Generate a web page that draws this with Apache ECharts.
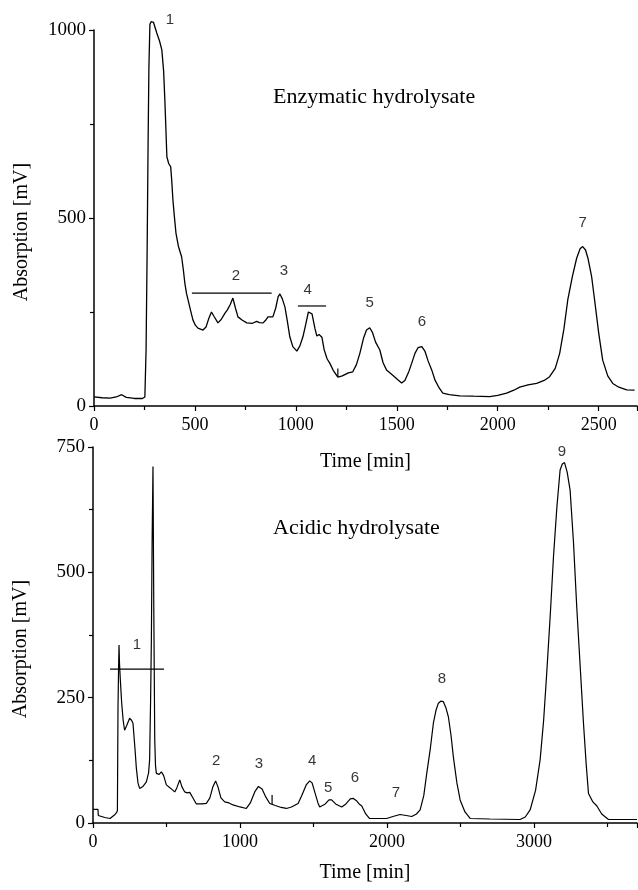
<!DOCTYPE html>
<html>
<head>
<meta charset="utf-8">
<script src="https://cdn.jsdelivr.net/npm/echarts@6/dist/echarts.min.js"></script>
<style>
html,body{margin:0;padding:0;background:#fff;}
#chart{width:638px;height:890px;}
</style>
</head>
<body>
<div id="chart"></div>
<script>
// ---------- Enzymatic hydrolysate (top) ----------
var enzTime = [0,40,80,110,137,160,200,240,252,258,263,268,272,277,283,295,300,311,325,336,345,351,356,361,370,380,385,391,398,406,418,434,442,450,458,466,478,490,502,515,540,555,570,582,595,614,630,649,660,675,688,700,713,735,757,785,806,820,838,850,862,886,900,912,921,933,946,958,970,985,1005,1020,1035,1050,1062,1069,1080,1095,1104,1115,1129,1140,1155,1168,1185,1208,1230,1260,1282,1300,1317,1335,1350,1366,1380,1395,1416,1432,1449,1480,1505,1524,1540,1560,1574,1590,1605,1624,1640,1655,1673,1690,1710,1728,1760,1812,1880,1960,2000,2044,2080,2109,2150,2193,2230,2257,2285,2307,2328,2347,2370,2391,2408,2421,2435,2447,2465,2480,2500,2520,2545,2570,2600,2639,2678];
var enzSignal = [24,22,21,24,30,23,20,20,24,150,400,700,900,1015,1022,1020,1015,992,970,947,890,814,740,663,645,636,600,548,505,460,425,397,365,327,300,282,255,229,215,207,202,210,235,250,238,221,230,247,255,270,287,262,237,228,221,220,225,222,221,228,237,237,260,290,298,285,263,225,184,158,146,160,184,220,250,255,245,205,186,190,183,150,125,114,95,77,80,88,91,110,140,180,202,208,195,170,149,115,96,82,70,61,68,92,114,140,155,158,145,120,96,68,48,34,30,27,26,25,28,34,42,50,56,60,68,78,100,140,205,282,345,393,418,424,415,393,345,282,195,122,80,60,50,43,42];
var enzPeakNames = ['1','2','3','4','5','6','7'];
var enzPeakTime = [376,703,941,1059,1366,1624,2421];
var enzPeakLevel = [1027,346,359,308,274,223,487];
var enzBarPeak2 = [[485,300],[880,300]];
var enzBarPeak4 = [[1010,266],[1150,266]];
var enzCutMark = [[1208,77],[1208,100]];

// ---------- Acidic hydrolysate (bottom) ----------
var acidTime = [0,34,36,41,80,116,150,161,166,170,174,177,180,186,195,205,215,230,249,262,272,285,295,306,317,340,363,378,385,392,397,402,408,413,420,425,431,450,465,480,499,525,556,570,590,605,624,640,658,680,703,740,771,795,815,834,850,870,896,925,952,1000,1043,1070,1100,1125,1134,1150,1175,1202,1240,1280,1315,1350,1395,1420,1450,1474,1490,1510,1530,1542,1580,1605,1623,1650,1692,1720,1750,1771,1790,1810,1828,1855,1880,1940,1997,2040,2088,2130,2168,2200,2225,2250,2270,2295,2315,2333,2349,2365,2383,2400,2417,2435,2451,2475,2497,2530,2565,2700,2905,2940,2973,3010,3041,3065,3086,3110,3132,3155,3177,3192,3207,3225,3245,3268,3290,3315,3336,3355,3370,3400,3427,3460,3506,3600,3700];
var acidSignal = [27,27,15,13,11,9,17,21,25,230,310,355,320,285,240,205,185,195,209,205,199,150,109,80,69,73,82,100,126,250,366,560,711,450,166,115,99,97,102,95,76,70,62,70,86,72,62,60,61,50,38,38,39,50,72,84,72,50,42,40,36,32,29,40,62,73,74,68,52,39,35,31,29,32,39,55,76,84,80,60,40,32,38,46,46,38,32,38,48,49,45,38,34,18,9,9,9,13,17,15,13,18,26,55,99,150,199,225,239,243,242,230,212,175,132,80,46,22,9,8,7,12,26,65,126,205,299,415,531,630,704,716,719,700,664,560,432,305,199,115,59,42,34,18,7,7,7];
var acidPeakNames = ['1','2','3','4','5','6','7','8','9'];
var acidPeakTime = [299,837,1129,1490,1599,1782,2061,2374,3190];
var acidPeakLevel = [355,124,118,124,70,90,60,287,740];
var acidBarPeak1 = [[116,307],[483,307]];
var acidCutMark = [[1218,38],[1218,56]];

function zip(a,b){ return a.map(function(v,i){ return [v,b[i]]; }); }
function labelData(t,v,n){ return t.map(function(x,i){ return [x,v[i],n[i]]; }); }

var serif = 'Liberation Serif, Times New Roman, serif';
var sans = 'Liberation Sans, Arial, sans-serif';
var black = '#000';

function xAxisCfg(gi, max, interval, gap){
  return {
    type:'value', gridIndex:gi, min:0, max:max, interval:interval,
    name:'Time [min]', nameLocation:'middle', nameGap:gap,
    nameTextStyle:{fontFamily:serif, fontSize:20, color:black},
    axisLine:{show:true, onZero:false, lineStyle:{color:black, width:1.5}},
    axisTick:{show:true, inside:false, length:5, lineStyle:{color:black, width:1.2}},
    minorTick:{show:true, splitNumber:2, length:4, lineStyle:{color:black, width:1.2}},
    axisLabel:{fontFamily:serif, fontSize:18, color:black, margin:10, showMaxLabel:false,
      formatter:function(v){ return String(v); }},
    splitLine:{show:false}
  };
}
function yAxisCfg(gi, max, interval){
  return {
    type:'value', gridIndex:gi, min:0, max:max, interval:interval,
    name:'Absorption [mV]', nameLocation:'middle', nameGap:62,
    nameTextStyle:{fontFamily:serif, fontSize:20, color:black, padding:[0,28,0,0]},
    axisLine:{show:true, onZero:false, lineStyle:{color:black, width:1.5}},
    axisTick:{show:true, inside:false, length:5, lineStyle:{color:black, width:1.2}},
    minorTick:{show:true, splitNumber:2, length:4, lineStyle:{color:black, width:1.2}},
    axisLabel:{fontFamily:serif, fontSize:19, color:black, margin:8,
      formatter:function(v){ return String(v); }},
    splitLine:{show:false}
  };
}
function labelSeries(xi, yi, data){
  return {
    type:'scatter', xAxisIndex:xi, yAxisIndex:yi, data:data, symbolSize:1, clip:false,
    itemStyle:{color:'rgba(0,0,0,0)'}, silent:true,
    label:{show:true, position:'inside', fontFamily:sans, fontSize:15, color:black,
      formatter:function(p){ return p.data[2]; }}
  };
}
function segSeries(xi, yi, data){
  return {type:'line', xAxisIndex:xi, yAxisIndex:yi, data:data, showSymbol:false, clip:false,
    lineStyle:{color:black, width:1.2}, silent:true};
}

var chart = echarts.init(document.getElementById('chart'), null, {renderer:'canvas'});
chart.setOption({
  animation:false,
  backgroundColor:'#fff',
  title:[
    {text:'Enzymatic hydrolysate', left:273, top:86, padding:0,
      textStyle:{fontFamily:serif, fontSize:22, fontWeight:'normal', color:black}},
    {text:'Acidic hydrolysate', left:273, top:517, padding:0,
      textStyle:{fontFamily:serif, fontSize:22, fontWeight:'normal', color:black}}
  ],
  grid:[
    {left:94, top:30, width:543, height:376, containLabel:false, outerBoundsMode:'none'},
    {left:93, top:447, width:544, height:376, containLabel:false, outerBoundsMode:'none'}
  ],
  xAxis:[ xAxisCfg(0, 2690, 500, 46), xAxisCfg(1, 3700, 1000, 40) ],
  yAxis:[ yAxisCfg(0, 1000, 500), yAxisCfg(1, 750, 250) ],
  series:[
    {type:'line', xAxisIndex:0, yAxisIndex:0, data:zip(enzTime, enzSignal), showSymbol:false,
      clip:false, lineStyle:{color:black, width:1.3}, silent:true},
    segSeries(0,0,enzBarPeak2),
    segSeries(0,0,enzBarPeak4),
    segSeries(0,0,enzCutMark),
    labelSeries(0,0,labelData(enzPeakTime, enzPeakLevel, enzPeakNames)),
    {type:'line', xAxisIndex:1, yAxisIndex:1, data:zip(acidTime, acidSignal), showSymbol:false,
      clip:false, lineStyle:{color:black, width:1.2}, silent:true},
    segSeries(1,1,acidBarPeak1),
    segSeries(1,1,acidCutMark),
    labelSeries(1,1,labelData(acidPeakTime, acidPeakLevel, acidPeakNames))
  ]
});
</script>
</body>
</html>
